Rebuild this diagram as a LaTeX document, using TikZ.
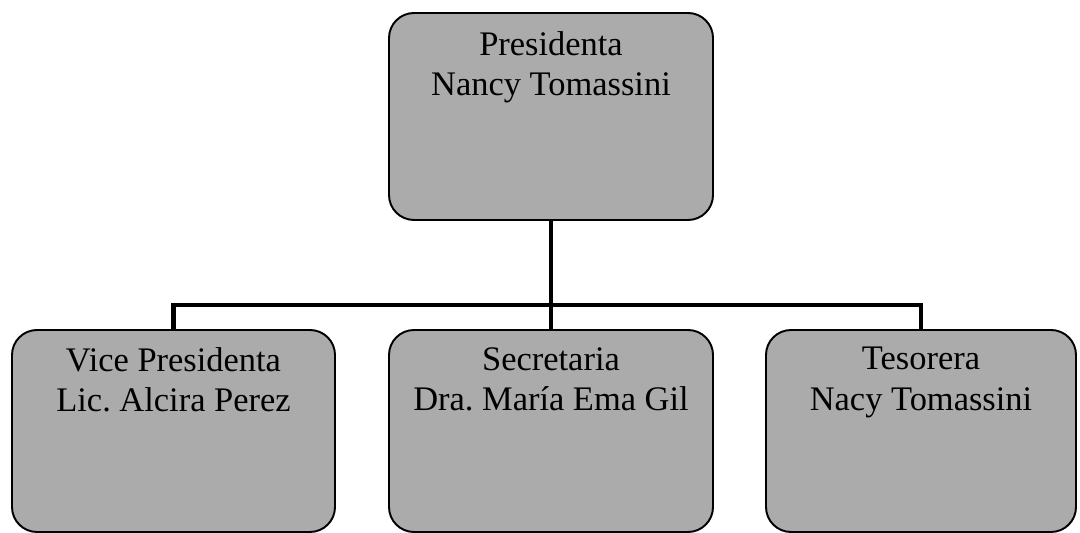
\documentclass[tikz,border=0pt]{standalone}
\usepackage{fontspec}
\setmainfont{Liberation Serif}
\usepackage{tikz}
\usetikzlibrary{positioning}
\frenchspacing

\begin{document}
\begin{tikzpicture}[
	cargo/.style={draw=black, line width=1.1pt, fill=black!33, rounded corners=0.5cm, minimum height=4.04cm},
	nombre/.style={anchor=north, inner sep=0pt, align=center, font=\fontsize{19.6}{22.8}\selectfont},
	rama/.style={draw=black, line width=2.8pt}
	]
	\useasboundingbox (0,0) rectangle (21.6,10.66);
	
	\node[cargo, minimum width=6.48cm, minimum height=4.14cm] (pres) at (11.02,8.33) {};
	\node[cargo, minimum width=6.46cm] (vice) at (3.47,2.04) {};
	\node[cargo, minimum width=6.48cm] (sec) at (11.02,2.04) {};
	\node[cargo, minimum width=6.2cm] (tes) at (18.42,2.04) {};
	
	\node[nombre, below=0.38cm of pres.north] (presT) {Presidenta\\Nancy Tomassini};
	\node[nombre, below=0.36cm of vice.north] (viceT) {Vice Presidenta\\Lic. Alcira Perez};
	\node[nombre, below=0.36cm of sec.north] (secT) {Secretaria\\Dra. María Ema Gil};
	\node[nombre, below=0.36cm of tes.north] (tesT) {Tesorera\\Nacy Tomassini};
	
	\coordinate (barra) at (0,4.56);
	\draw[rama] (pres.south) -- (sec.north);
	\draw[rama] (vice.north) -- (vice.north |- barra) -- (tes.north |- barra) -- (tes.north);
\end{tikzpicture}
\end{document}
